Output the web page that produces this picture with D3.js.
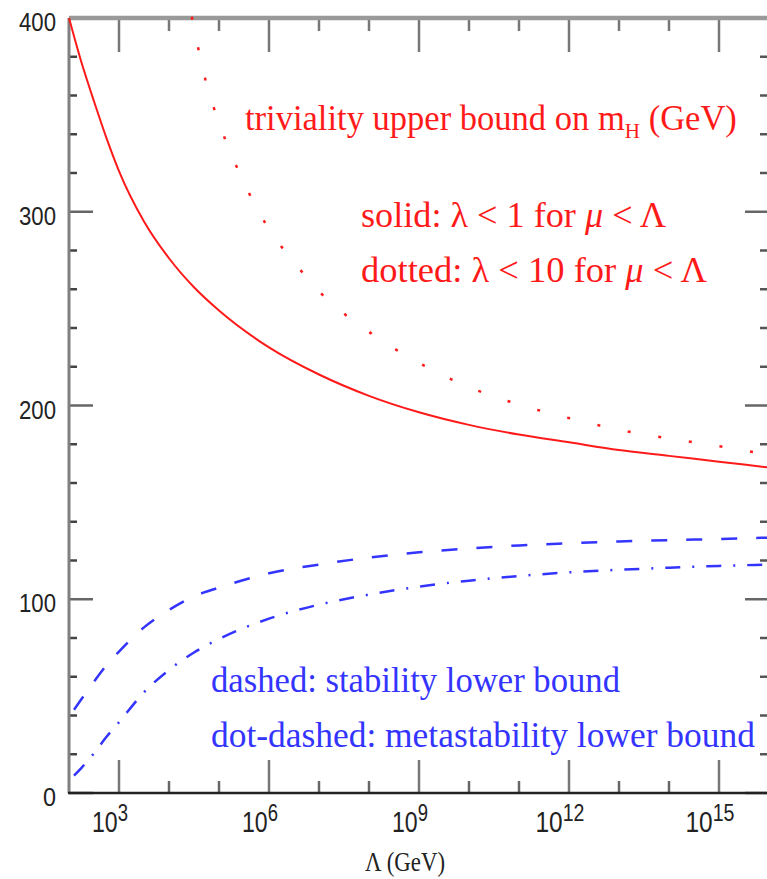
<!DOCTYPE html>
<html>
<head>
<meta charset="utf-8">
<script src="https://cdn.jsdelivr.net/npm/d3@7"></script>
<style>
  body { margin: 0; background: #fff; }
  svg { display: block; }
</style>
</head>
<body>
<div class="usable"></div>
<script>
// exponents of Lambda (GeV), i.e. Lambda = 10^x
const solidLog = [2, 2.25, 2.5, 2.75, 3, 3.5, 4, 4.5, 5, 6, 7, 8, 9, 10, 11, 12, 13, 14, 15, 16]
const solidMh = [400, 377, 357, 338, 321, 295, 276, 261, 249, 230, 216, 205, 196.5, 190, 185, 181, 177, 174, 171, 168]

const dottedLog = [4.46, 4.75, 5, 5.5, 6, 6.5, 7, 8, 9, 10, 11, 12, 13, 14, 15, 16]
const dottedMh = [400, 366, 346, 315, 291, 274, 259, 238, 222, 209.5, 200.5, 193.5, 187.5, 183, 179, 174.5]

const lowerLog = [2.1, 2.25, 2.5, 2.75, 3, 3.5, 4, 4.5, 5, 6, 7, 8, 9, 10, 11, 12, 13, 14, 15, 16]
const dashedMh = [43, 48.5, 57.5, 66, 73, 85.5, 94.5, 101.5, 106, 113.4, 117.9, 121.5, 124.2, 126.2, 127.8, 128.9, 129.8, 130.5, 131.1, 131.8]
const dotDashMh = [9, 13, 20.5, 29, 36.5, 52, 63.5, 72.5, 79.5, 90, 97.2, 102.4, 106.5, 109.6, 112, 113.9, 115.2, 116.3, 117.2, 117.9]

const xMajor = [3, 6, 9, 12, 15]
const xMinor = [4, 5, 7, 8, 10, 11, 13, 14]
const yMajor = [0, 100, 200, 300, 400]
const yMinor = d3.range(20, 400, 20).filter(v => v % 100 != 0)

const width = 767,
  height = 879;
const plotL = 69, plotR = 769, plotT = 18, plotB = 793;

let svg = d3.select(".usable").append("svg")
  .attr("width", width)
  .attr("height", height)

let x = d3.scaleLog().domain([1e2, 1e16]).range([plotL, plotR])
let y = d3.scaleLinear().domain([0, 400]).range([plotB, plotT])

const red = "#ff1a1a", blue = "#3434ff";

// ticks: inward on all four sides
function tickLine(x1, y1, x2, y2, w, col) {
  svg.append("line").attr("x1", x1).attr("y1", y1).attr("x2", x2).attr("y2", y2)
    .attr("stroke", col).attr("stroke-width", w)
}

xMinor.forEach(e => {
  let px = x(Math.pow(10, e))
  tickLine(px, plotB, px, plotB - 12, 2.5, "#666")
  tickLine(px, plotT, px, plotT + 13, 2.5, "#777")
})
xMajor.forEach(e => {
  let px = x(Math.pow(10, e))
  tickLine(px, plotB, px, plotB - 33, 2.5, "#777")
  tickLine(px, plotT, px, plotT + 34, 2.5, "#777")
})
yMinor.forEach(v => {
  tickLine(plotL, y(v), plotL + 8, y(v), 2.5, "#444")
  tickLine(plotR, y(v), plotR - 9, y(v), 2.5, "#555")
})
yMajor.forEach(v => {
  tickLine(plotL, y(v), plotL + 24, y(v), 2.5, "#666")
  tickLine(plotR, y(v), plotR - 24, y(v), 2.5, "#666")
})

// frame
tickLine(plotL, plotT, plotR, plotT, 4.5, "#999")
tickLine(plotR, plotT, plotR, plotB, 3, "#888")
tickLine(plotL, plotT, plotL, plotB, 3, "#808080")
tickLine(plotL - 1, plotB, plotR, plotB, 2.4, "#222")

// text helper: scale horizontally so that the text gets the wanted width
function label(x0, y0, targetW, anchor, build) {
  let g = svg.append("g")
  let t = g.append("text").attr("text-anchor", anchor)
  build(t)
  let w = t.node().getBBox().width
  g.attr("transform", "translate(" + x0 + "," + y0 + ") scale(" + (targetW / w) + ",1)")
  return t
}

// y tick labels
yMajor.forEach(v => {
  label(56, y(v) + 13, v == 0 ? 13 : 37, "end", t => {
    t.text(v).attr("font-family", "Liberation Sans, Arial, sans-serif")
      .attr("font-size", 25).attr("fill", "#222")
  })
})

// x tick labels 10^n
xMajor.forEach(e => {
  label(x(Math.pow(10, e)) - 9, 832, e < 10 ? 36 : 49, "middle", t => {
    t.attr("font-family", "Liberation Sans, Arial, sans-serif").attr("fill", "#222")
    t.append("tspan").text("10").attr("font-size", 30)
    t.append("tspan").text(e).attr("font-size", 24).attr("dy", -11)
  })
})

const serif = "Liberation Serif, Times New Roman, serif";

// axis title
label(405, 871, 80, "middle", t => {
  t.text("Λ (GeV)").attr("font-family", serif).attr("font-size", 27).attr("fill", "#222")
})

// curves
let line = d3.line()
  .x(d => x(Math.pow(10, d[0])))
  .y(d => y(d[1]))
  .curve(d3.curveMonotoneX)

function drawCurve(xs, ys, col, w, dash, cap) {
  let pts = xs.map((v, i) => [v, ys[i]])
  let p = svg.append("path").datum(pts)
    .attr("d", line)
    .attr("fill", "none")
    .attr("stroke", col)
    .attr("stroke-width", w)
  if (dash) p.attr("stroke-dasharray", dash)
  if (cap) p.attr("stroke-linecap", cap)
}

drawCurve(solidLog, solidMh, red, 2, null)
drawCurve(dottedLog, dottedMh, red, 2.5, "0.5,30.5", "square")
drawCurve(lowerLog, dashedMh, blue, 2.5, "16,19")
drawCurve(lowerLog, dotDashMh, blue, 2.5, "15,12,2,12")

// annotations
label(245, 130, 492, "start", t => {
  t.attr("font-family", serif).attr("font-size", 36).attr("fill", red)
  t.append("tspan").text("triviality upper bound on m")
  t.append("tspan").text("H").attr("font-size", 22).attr("dy", 8)
  t.append("tspan").text(" (GeV)").attr("dy", -8)
})

label(361, 227, 305, "start", t => {
  t.attr("font-family", serif).attr("font-size", 36).attr("fill", red)
  t.append("tspan").text("solid: λ < 1 for ")
  t.append("tspan").text("μ").attr("font-style", "italic")
  t.append("tspan").text(" < Λ")
})

label(361, 282, 346, "start", t => {
  t.attr("font-family", serif).attr("font-size", 36).attr("fill", red)
  t.append("tspan").text("dotted: λ < 10 for ")
  t.append("tspan").text("μ").attr("font-style", "italic")
  t.append("tspan").text(" < Λ")
})

label(211, 692, 409, "start", t => {
  t.text("dashed: stability lower bound")
    .attr("font-family", serif).attr("font-size", 36).attr("fill", blue)
})

label(211, 747, 544, "start", t => {
  t.text("dot-dashed: metastability lower bound")
    .attr("font-family", serif).attr("font-size", 36).attr("fill", blue)
})
</script>
</body>
</html>
